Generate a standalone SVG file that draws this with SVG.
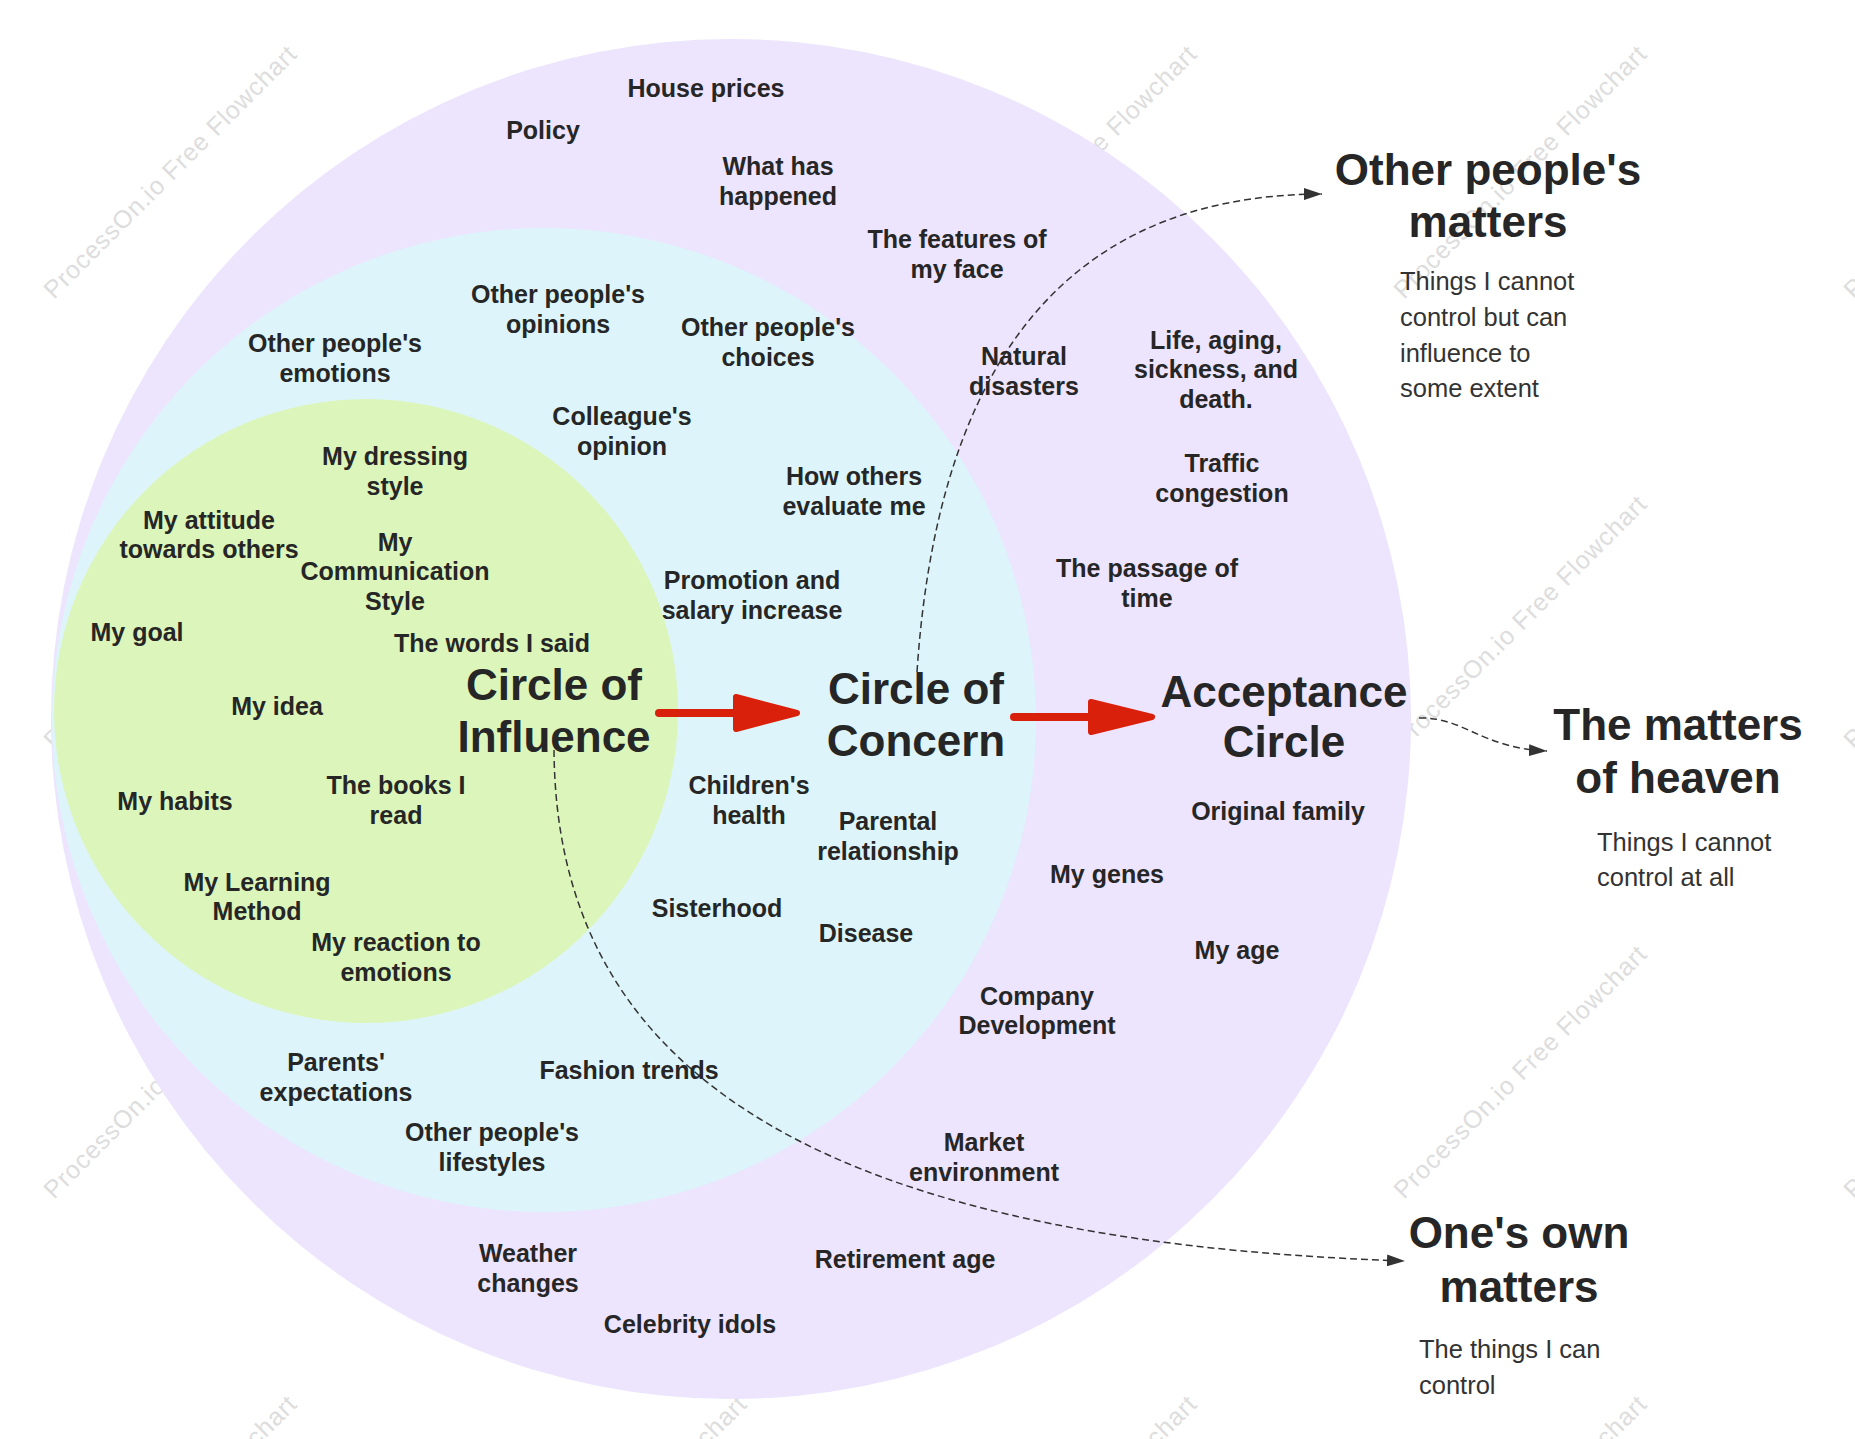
<svg xmlns="http://www.w3.org/2000/svg" width="1855" height="1439" viewBox="0 0 1855 1439">
<style>
.lbl{font-family:"Liberation Sans",Arial,sans-serif;font-weight:bold;font-size:25px;fill:#262626;text-anchor:middle}
.ttl{font-family:"Liberation Sans",Arial,sans-serif;font-weight:bold;font-size:44px;fill:#262626;text-anchor:middle}
.dsc{font-family:"Liberation Sans",Arial,sans-serif;font-size:25.5px;fill:#333333}
.wm{font-family:"Liberation Sans",Arial,sans-serif;font-size:25px;fill:#dddddd}
.dash{fill:none;stroke:#333333;stroke-width:1.5;stroke-dasharray:7 4}
.red{fill:#d9200a;stroke:#d9200a;stroke-linejoin:round;stroke-linecap:round}
</style>
<defs>
<marker id="ah" markerUnits="userSpaceOnUse" markerWidth="18" markerHeight="12" refX="18" refY="6" orient="auto">
<path d="M0,0 L18,6 L0,12 Z" fill="#333333"/>
</marker>
</defs>
<rect width="1855" height="1439" fill="#ffffff"/>
<g id="watermarks">
<text class="wm" transform="translate(54,300) rotate(-45)" textLength="345">ProcessOn.io Free Flowchart</text>
<text class="wm" transform="translate(954,300) rotate(-45)" textLength="345">ProcessOn.io Free Flowchart</text>
<text class="wm" transform="translate(1404,300) rotate(-45)" textLength="345">ProcessOn.io Free Flowchart</text>
<text class="wm" transform="translate(1854,300) rotate(-45)" textLength="345">ProcessOn.io Free Flowchart</text>
<text class="wm" transform="translate(54,750) rotate(-45)" textLength="345">ProcessOn.io Free Flowchart</text>
<text class="wm" transform="translate(1404,750) rotate(-45)" textLength="345">ProcessOn.io Free Flowchart</text>
<text class="wm" transform="translate(1854,750) rotate(-45)" textLength="345">ProcessOn.io Free Flowchart</text>
<text class="wm" transform="translate(54,1200) rotate(-45)" textLength="345">ProcessOn.io Free Flowchart</text>
<text class="wm" transform="translate(1404,1200) rotate(-45)" textLength="345">ProcessOn.io Free Flowchart</text>
<text class="wm" transform="translate(1854,1200) rotate(-45)" textLength="345">ProcessOn.io Free Flowchart</text>
<text class="wm" transform="translate(54,1650) rotate(-45)" textLength="345">ProcessOn.io Free Flowchart</text>
<text class="wm" transform="translate(504,1650) rotate(-45)" textLength="345">ProcessOn.io Free Flowchart</text>
<text class="wm" transform="translate(954,1650) rotate(-45)" textLength="345">ProcessOn.io Free Flowchart</text>
<text class="wm" transform="translate(1404,1650) rotate(-45)" textLength="345">ProcessOn.io Free Flowchart</text>
</g>
<g id="circles">
<circle id="acceptance-circle" cx="731" cy="719" r="680" fill="#ede4fd"/>
<circle id="concern-circle" cx="544" cy="720" r="492" fill="#ddf5fa"/>
<circle id="influence-circle" cx="366" cy="711" r="312" fill="#dcf5ba"/>
</g>
<g id="connectors">
<path class="dash" d="M917,672 C935,400 1040,195 1322,194" marker-end="url(#ah)"/>
<path class="dash" d="M1419,718 C1465,717 1480,748 1547,751" marker-end="url(#ah)"/>
<path class="dash" d="M554,750 C556,1050 780,1240 1405,1261" marker-end="url(#ah)"/>
<g id="red-arrow-1">
<line x1="659" y1="713" x2="740" y2="713" stroke="#d9200a" stroke-width="8" stroke-linecap="round"/>
<path class="red" stroke-width="6" d="M736,697 L797,713 L736,729 Z"/>
</g>
<g id="red-arrow-2">
<line x1="1014" y1="717" x2="1095" y2="717" stroke="#d9200a" stroke-width="8" stroke-linecap="round"/>
<path class="red" stroke-width="6" d="M1091,702 L1152,717 L1091,732 Z"/>
</g>
</g>
<g id="nodes">
<g id="n-house-prices"><text class="lbl" x="706" y="97">House prices</text></g>
<g id="n-policy"><text class="lbl" x="543" y="139">Policy</text></g>
<g id="n-what-has-happened"><text class="lbl"><tspan x="778" y="175">What has</tspan><tspan x="778" y="205">happened</tspan></text></g>
<g id="n-features-face"><text class="lbl"><tspan x="957" y="248">The features of</tspan><tspan x="957" y="278">my face</tspan></text></g>
<g id="n-opinions"><text class="lbl"><tspan x="558" y="303">Other people's</tspan><tspan x="558" y="333">opinions</tspan></text></g>
<g id="n-choices"><text class="lbl"><tspan x="768" y="336">Other people's</tspan><tspan x="768" y="366">choices</tspan></text></g>
<g id="n-emotions-others"><text class="lbl"><tspan x="335" y="352">Other people's</tspan><tspan x="335" y="382">emotions</tspan></text></g>
<g id="n-colleague"><text class="lbl"><tspan x="622" y="425">Colleague's</tspan><tspan x="622" y="455">opinion</tspan></text></g>
<g id="n-evaluate"><text class="lbl"><tspan x="854" y="485">How others</tspan><tspan x="854" y="515">evaluate me</tspan></text></g>
<g id="n-promotion"><text class="lbl"><tspan x="752" y="589">Promotion and</tspan><tspan x="752" y="619">salary increase</tspan></text></g>
<g id="n-dressing"><text class="lbl"><tspan x="395" y="465">My dressing</tspan><tspan x="395" y="495">style</tspan></text></g>
<g id="n-attitude"><text class="lbl"><tspan x="209" y="529">My attitude</tspan><tspan x="209" y="558">towards others</tspan></text></g>
<g id="n-communication"><text class="lbl"><tspan x="395" y="551">My</tspan><tspan x="395" y="580">Communication</tspan><tspan x="395" y="610">Style</tspan></text></g>
<g id="n-goal"><text class="lbl" x="137" y="641">My goal</text></g>
<g id="n-words"><text class="lbl" x="492" y="652">The words I said</text></g>
<g id="n-idea"><text class="lbl" x="277" y="715">My idea</text></g>
<g id="n-children"><text class="lbl"><tspan x="749" y="794">Children's</tspan><tspan x="749" y="824">health</tspan></text></g>
<g id="n-parental"><text class="lbl"><tspan x="888" y="830">Parental</tspan><tspan x="888" y="860">relationship</tspan></text></g>
<g id="n-sisterhood"><text class="lbl" x="717" y="917">Sisterhood</text></g>
<g id="n-disease"><text class="lbl" x="866" y="942">Disease</text></g>
<g id="n-habits"><text class="lbl" x="175" y="810">My habits</text></g>
<g id="n-books"><text class="lbl"><tspan x="396" y="794">The books I</tspan><tspan x="396" y="824">read</tspan></text></g>
<g id="n-learning"><text class="lbl"><tspan x="257" y="891">My Learning</tspan><tspan x="257" y="920">Method</tspan></text></g>
<g id="n-reaction"><text class="lbl"><tspan x="396" y="951">My reaction to</tspan><tspan x="396" y="981">emotions</tspan></text></g>
<g id="n-parents"><text class="lbl"><tspan x="336" y="1071">Parents'</tspan><tspan x="336" y="1101">expectations</tspan></text></g>
<g id="n-fashion"><text class="lbl" x="629" y="1079">Fashion trends</text></g>
<g id="n-lifestyles"><text class="lbl"><tspan x="492" y="1141">Other people's</tspan><tspan x="492" y="1171">lifestyles</tspan></text></g>
<g id="n-weather"><text class="lbl"><tspan x="528" y="1262">Weather</tspan><tspan x="528" y="1292">changes</tspan></text></g>
<g id="n-celebrity"><text class="lbl" x="690" y="1333">Celebrity idols</text></g>
<g id="n-retirement"><text class="lbl" x="905" y="1268">Retirement age</text></g>
<g id="n-market"><text class="lbl"><tspan x="984" y="1151">Market</tspan><tspan x="984" y="1181">environment</tspan></text></g>
<g id="n-company"><text class="lbl"><tspan x="1037" y="1005">Company</tspan><tspan x="1037" y="1034">Development</tspan></text></g>
<g id="n-genes"><text class="lbl" x="1107" y="883">My genes</text></g>
<g id="n-age"><text class="lbl" x="1237" y="959">My age</text></g>
<g id="n-original-family"><text class="lbl" x="1278" y="820">Original family</text></g>
<g id="n-natural"><text class="lbl"><tspan x="1024" y="365">Natural</tspan><tspan x="1024" y="395">disasters</tspan></text></g>
<g id="n-life"><text class="lbl"><tspan x="1216" y="349">Life, aging,</tspan><tspan x="1216" y="378">sickness, and</tspan><tspan x="1216" y="408">death.</tspan></text></g>
<g id="n-traffic"><text class="lbl"><tspan x="1222" y="472">Traffic</tspan><tspan x="1222" y="502">congestion</tspan></text></g>
<g id="n-time"><text class="lbl"><tspan x="1147" y="577">The passage of</tspan><tspan x="1147" y="607">time</tspan></text></g>
<g id="t-influence"><text class="ttl"><tspan x="554" y="700">Circle of</tspan><tspan x="554" y="752">Influence</tspan></text></g>
<g id="t-concern"><text class="ttl"><tspan x="916" y="704">Circle of</tspan><tspan x="916" y="756">Concern</tspan></text></g>
<g id="t-acceptance"><text class="ttl"><tspan x="1284" y="707">Acceptance</tspan><tspan x="1284" y="757">Circle</tspan></text></g>
<g id="t-others-matters">
<text class="ttl"><tspan x="1488" y="185">Other people's</tspan><tspan x="1488" y="237">matters</tspan></text>
<text class="dsc"><tspan x="1400" y="290">Things I cannot</tspan><tspan x="1400" y="326">control but can</tspan><tspan x="1400" y="362">influence to</tspan><tspan x="1400" y="397">some extent</tspan></text>
</g>
<g id="t-heaven">
<text class="ttl"><tspan x="1678" y="740">The matters</tspan><tspan x="1678" y="793">of heaven</tspan></text>
<text class="dsc"><tspan x="1597" y="851">Things I cannot</tspan><tspan x="1597" y="886">control at all</tspan></text>
</g>
<g id="t-own">
<text class="ttl"><tspan x="1519" y="1248">One's own</tspan><tspan x="1519" y="1302">matters</tspan></text>
<text class="dsc"><tspan x="1419" y="1358">The things I can</tspan><tspan x="1419" y="1394">control</tspan></text>
</g>
</g>
</svg>
